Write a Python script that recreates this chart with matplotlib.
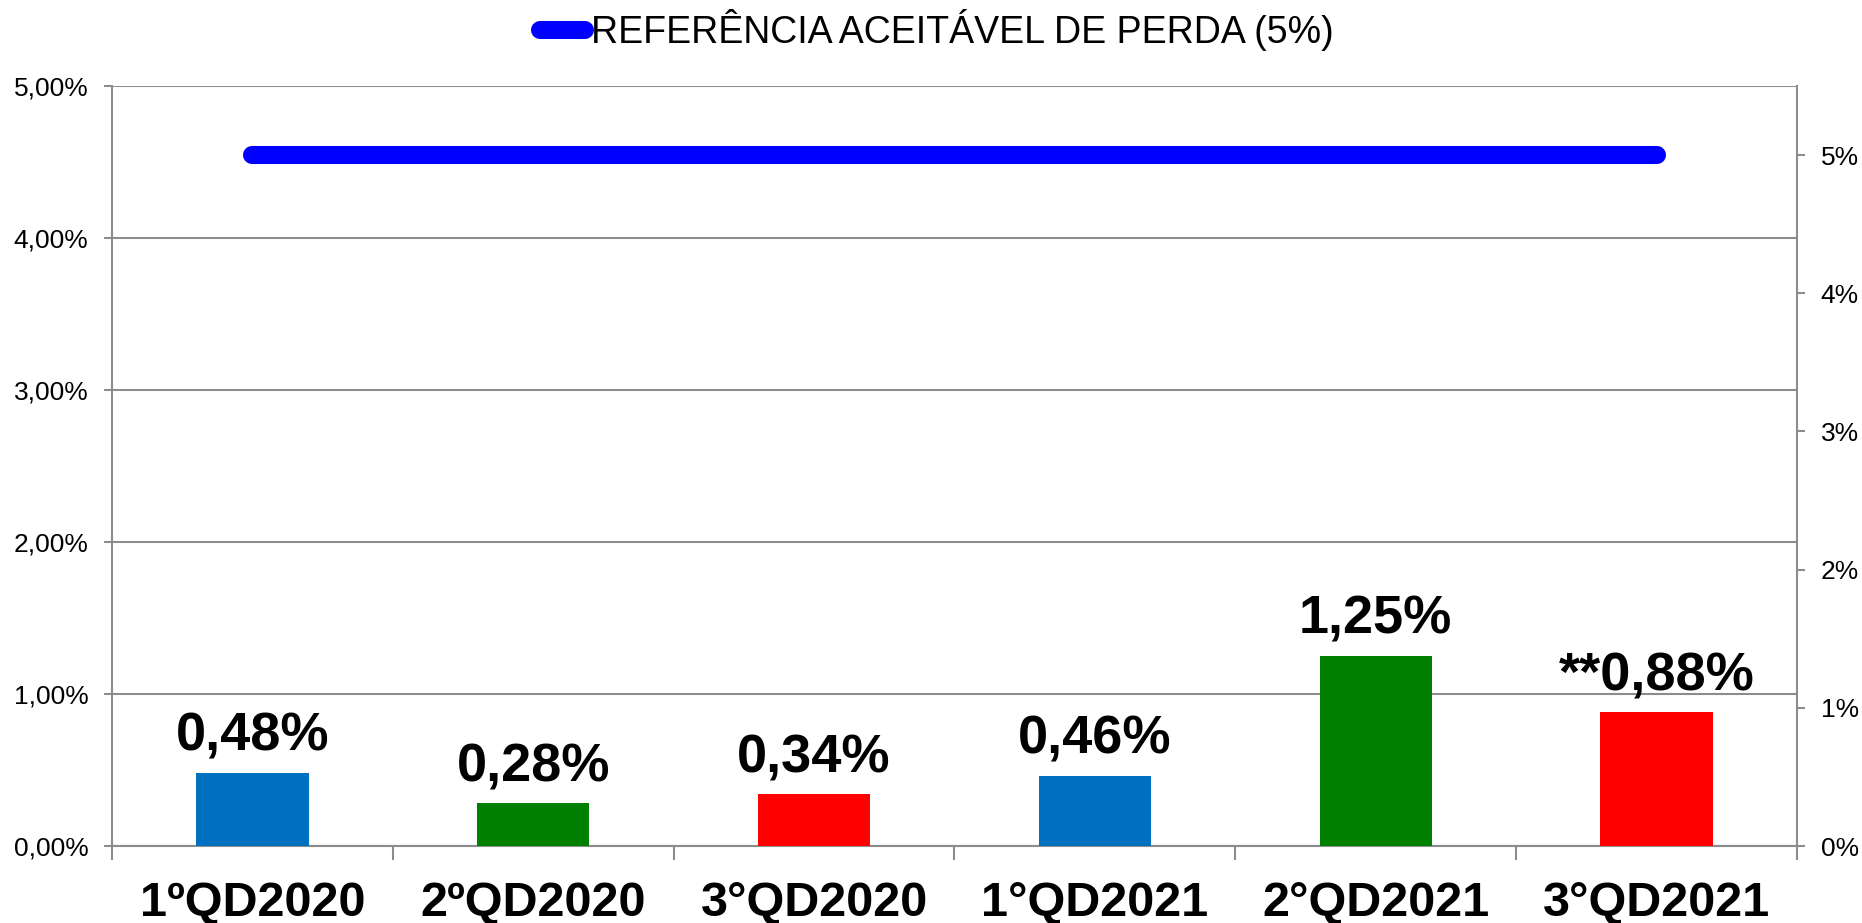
import numpy as np
import matplotlib.pyplot as plt
from matplotlib.lines import Line2D

plt.rcParams['font.family'] = ['Liberation Sans', 'DejaVu Sans']

##### DATA #####
quarters = ["1ºQD2020", "2ºQD2020", "3°QD2020", "1°QD2021", "2°QD2021", "3°QD2021"]
losses = [0.48, 0.28, 0.34, 0.46, 1.25, 0.88]          # % perda
value_labels = ["0,48%", "0,28%", "0,34%", "0,46%", "1,25%", "**0,88%"]
bar_colors = ["#0070C0", "#008000", "#FF0000", "#0070C0", "#008000", "#FF0000"]
reference = [5, 5, 5, 5, 5, 5]                          # referência aceitável (%), eixo secundário
left_ticks = [0, 1, 2, 3, 4, 5]
left_tick_labels = ["0,00%", "1,00%", "2,00%", "3,00%", "4,00%", "5,00%"]
right_ticks = [0, 1, 2, 3, 4, 5]
right_tick_labels = ["0%", "1%", "2%", "3%", "4%", "5%"]

grey = "#8C8C8C"
x = np.arange(len(quarters))

##### PLOT #####
fig = plt.figure(figsize=(18.62, 9.23), dpi=100)
ax = fig.add_axes([0.0601, 0.0834, 0.905, 0.8234])

ax.bar(x, losses, width=0.4, color=bar_colors, zorder=3)
for xi, val, lab in zip(x, losses, value_labels):
    ax.annotate(lab, (xi, val), xytext=(0, 16), textcoords="offset points",
                ha="center", va="baseline", fontsize=39, fontweight="bold", zorder=4)

ax.set_xlim(-0.5, len(quarters) - 0.5)
ax.set_ylim(0, 5)
ax.set_yticks(left_ticks)
ax.set_yticklabels(left_tick_labels, fontsize=19)
ax.set_xticks(x)
ax.set_xticklabels(quarters, fontsize=35, fontweight="bold")
ax.set_xticks(np.arange(-0.5, len(quarters), 1), minor=True)
ax.tick_params(axis="x", which="major", length=0, pad=25)
ax.tick_params(axis="x", which="minor", length=10, width=1.5, color=grey)
ax.tick_params(axis="y", length=6, width=1.5, color=grey, pad=11)
ax.grid(axis="y", color=grey, linewidth=1.5, zorder=0)
for side in ["left", "right", "bottom"]:
    ax.spines[side].set_color(grey)
    ax.spines[side].set_linewidth(1.5)
ax.spines["top"].set_visible(False)

ax2 = ax.twinx()
ax2.plot(x, reference, color="#0000FF", linewidth=13, solid_capstyle="round", zorder=5)
ax2.set_ylim(0, 5.5)
ax2.set_yticks(right_ticks)
ax2.set_yticklabels(right_tick_labels, fontsize=19)
ax2.tick_params(axis="y", length=6, width=1.5, color=grey, pad=11)
for side in ["left", "right", "bottom", "top"]:
    ax2.spines[side].set_visible(False)

handle = Line2D([], [], color="#0000FF", linewidth=13, solid_capstyle="round")
fig.legend([handle], ["REFERÊNCIA ACEITÁVEL DE PERDA (5%)"], loc="center",
           bbox_to_anchor=(0.503, 0.967), frameon=False, fontsize=27,
           handlelength=1.2, handletextpad=0.15)

plt.savefig("out.png", dpi=100)
